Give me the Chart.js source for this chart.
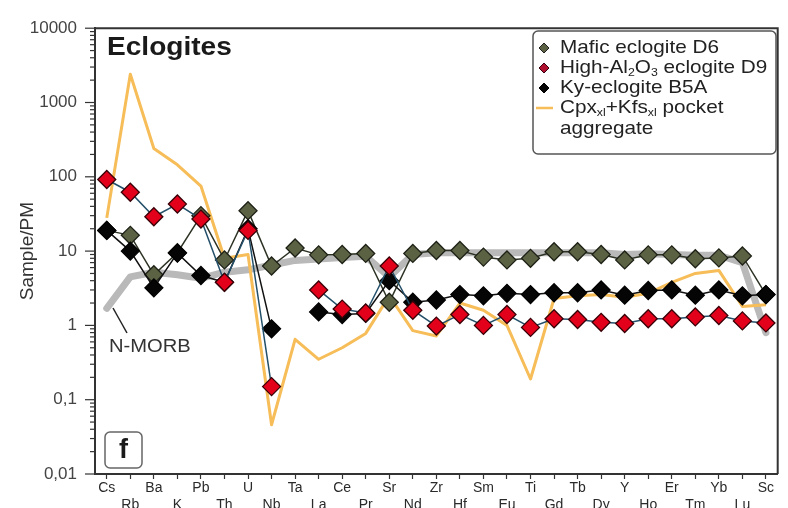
<!DOCTYPE html>
<html>
<head>
<meta charset="utf-8">
<script src="https://cdn.jsdelivr.net/npm/chart.js@4/dist/chart.umd.min.js"></script>
<style>
  html, body { margin: 0; padding: 0; background: #fff; overflow: hidden; }
  #wrap { width: 788px; height: 520px; }
</style>
</head>
<body>
<div id="wrap"><canvas id="c" width="788" height="520"></canvas></div>
<script>
// Trace elements, normalised to primitive mantle
const elements = ['Cs','Rb','Ba','K','Pb','Th','U','Nb','Ta','La','Ce','Pr','Sr','Nd','Zr','Hf','Sm','Eu','Ti','Gd','Tb','Dy','Y','Ho','Er','Tm','Yb','Lu','Sc'];

const maficD6 = [19, 16.3, 4.8, 9.5, 30, 7.6, 35, 6.3, 11, 8.9, 9.0, 9.3, 2.05, 9.3, 10.2, 10.2, 8.3, 7.6, 8.0, 9.8, 9.8, 9.0, 7.6, 8.9, 8.9, 7.9, 8.1, 8.6, 2.6];
const highAlD9 = [92, 62, 29, 43, 27, 3.8, 19, 0.15, null, 3.0, 1.66, 1.47, 6.3, 1.6, 0.98, 1.4, 1.0, 1.4, 0.94, 1.23, 1.2, 1.1, 1.06, 1.23, 1.23, 1.3, 1.36, 1.15, 1.08];
const kyB5A = [19, 10, 3.2, 9.4, 4.7, 3.8, 20, 0.9, null, 1.52, 1.4, 1.45, 4.0, 2.05, 2.2, 2.6, 2.5, 2.7, 2.6, 2.75, 2.75, 3.0, 2.55, 2.95, 3.0, 2.55, 3.0, 2.5, 2.6];
const pocketAggregate = [28, 2400, 240, 145, 75, 8, 9, 0.046, 0.65, 0.35, 0.5, 0.78, 2.5, 0.85, 0.72, 2.0, 1.6, 1.0, 0.19, 2.3, 2.5, 2.6, 2.4, 2.7, 3.8, 5.0, 5.5, 1.8, 1.9];
const nMorb = [1.7, 4.5, 5.2, 4.8, 4.3, 5.2, 5.6, 6.5, 7.5, 7.8, 8.2, 8.5, 4.5, 9.0, 9.5, 9.5, 9.5, 9.5, 9.5, 9.5, 9.5, 9.5, 9.0, 9.2, 9.0, 8.8, 8.8, 7.0, 0.8];

const yMajorTicks = [0.01, 0.1, 1, 10, 100, 1000, 10000];
const yTickText = ['0,01', '0,1', '1', '10', '100', '1000', '10000'];

const FONT = '"Liberation Sans", Arial, sans-serif';
const GREEN = '#5b6244';
const RED = '#e2001a';
const BLACK = '#050505';
const YELLOW = '#f6bd58';
const GREY = '#b9b9b9';

function markerSet(fill, border, line) {
  return {
    pointStyle: 'rectRot',
    pointRadius: 9,
    pointHoverRadius: 9,
    pointBackgroundColor: fill,
    pointBorderColor: border,
    pointBorderWidth: 1.3,
    borderColor: line,
    borderWidth: 1.5,
    tension: 0,
    spanGaps: false,
    fill: false
  };
}

// Rich text with subscripts, slightly widened: parts = [[text, isSub], ...]
function drawRich(ctx, parts, x, y, size, stretch) {
  ctx.save();
  ctx.translate(x, y);
  ctx.scale(stretch, 1);
  let cx = 0;
  for (const [t, sub] of parts) {
    ctx.font = (sub ? Math.round(size * 0.62) : size) + 'px ' + FONT;
    ctx.fillText(t, cx, sub ? size * 0.28 : 0);
    cx += ctx.measureText(t).width;
  }
  ctx.restore();
}

function wideText(ctx, text, x, y, font, stretch) {
  ctx.save();
  ctx.translate(x, y);
  ctx.scale(stretch, 1);
  ctx.font = font;
  ctx.fillText(text, 0, 0);
  ctx.restore();
}

function diamond(ctx, x, y, r, fill, stroke) {
  ctx.beginPath();
  ctx.moveTo(x - r, y); ctx.lineTo(x, y - r); ctx.lineTo(x + r, y); ctx.lineTo(x, y + r);
  ctx.closePath();
  ctx.fillStyle = fill; ctx.fill();
  ctx.strokeStyle = stroke; ctx.lineWidth = 1; ctx.stroke();
}

const decorations = {
  id: 'decorations',
  afterDraw(chart) {
    const ctx = chart.ctx;
    const a = chart.chartArea;
    const ys = chart.scales.y;
    ctx.save();

    // frame: top and right edges
    ctx.strokeStyle = '#333';
    ctx.lineWidth = 2;
    ctx.beginPath();
    ctx.moveTo(a.left, a.top); ctx.lineTo(a.right, a.top); ctx.lineTo(a.right, a.bottom);
    ctx.stroke();

    // log ticks on the y axis, long at decades, short between
    ctx.lineWidth = 1.2;
    for (const t of ys.ticks) {
      const py = ys.getPixelForValue(t.value);
      const len = yMajorTicks.includes(t.value) ? 10 : 5;
      ctx.beginPath();
      ctx.moveTo(a.left - len, py); ctx.lineTo(a.left, py);
      ctx.stroke();
    }

    // panel title
    ctx.fillStyle = '#1a1a1a';
    ctx.textBaseline = 'alphabetic';
    ctx.textAlign = 'left';
    wideText(ctx, 'Eclogites', 107, 55, 'bold 26px ' + FONT, 1.08);

    // panel letter
    ctx.strokeStyle = '#666';
    ctx.lineWidth = 1.5;
    ctx.beginPath();
    ctx.roundRect(105, 432, 37, 36, 5);
    ctx.stroke();
    ctx.font = 'bold 27px ' + FONT;
    ctx.textAlign = 'center';
    ctx.textBaseline = 'middle';
    ctx.fillText('f', 123.5, 451);

    // N-MORB label and leader
    ctx.strokeStyle = '#222';
    ctx.lineWidth = 1.5;
    ctx.beginPath();
    ctx.moveTo(113, 308); ctx.lineTo(127, 333);
    ctx.stroke();
    ctx.textAlign = 'left';
    ctx.fillStyle = '#333';
    wideText(ctx, 'N-MORB', 109, 347, '18px ' + FONT, 1.12);

    // legend
    ctx.fillStyle = '#fff';
    ctx.strokeStyle = '#555';
    ctx.lineWidth = 1.5;
    ctx.beginPath();
    ctx.roundRect(533, 31, 243, 123, 5);
    ctx.fill();
    ctx.stroke();

    diamond(ctx, 544, 48, 5, GREEN, '#222');
    diamond(ctx, 544, 68, 5, '#b01030', '#3a0010');
    diamond(ctx, 544, 88, 5, BLACK, '#000');
    ctx.strokeStyle = YELLOW;
    ctx.lineWidth = 2.5;
    ctx.beginPath();
    ctx.moveTo(536, 108); ctx.lineTo(553, 108);
    ctx.stroke();

    ctx.fillStyle = '#222';
    ctx.textBaseline = 'middle';
    const fs = 18.5, sx = 1.12;
    drawRich(ctx, [['Mafic eclogite D6', false]], 560, 48, fs, sx);
    drawRich(ctx, [['High-Al', false], ['2', true], ['O', false], ['3', true], [' eclogite D9', false]], 560, 68, fs, sx);
    drawRich(ctx, [['Ky-eclogite B5A', false]], 560, 88, fs, sx);
    drawRich(ctx, [['Cpx', false], ['xl', true], ['+Kfs', false], ['xl', true], [' pocket', false]], 560, 108, fs, sx);
    drawRich(ctx, [['aggregate', false]], 560, 129, fs, sx);

    ctx.restore();
  }
};

const ctx = document.getElementById('c').getContext('2d');
new Chart(ctx, {
  type: 'line',
  data: {
    labels: elements,
    datasets: [
      { label: 'N-MORB', data: nMorb, order: 5,
        borderColor: GREY, borderWidth: 7, pointRadius: 0, pointHoverRadius: 0,
        borderCapStyle: 'round', borderJoinStyle: 'round', tension: 0, fill: false },
      { label: 'Cpx+Kfs pocket aggregate', data: pocketAggregate, order: 4,
        borderColor: YELLOW, borderWidth: 3, pointRadius: 0, pointHoverRadius: 0,
        borderJoinStyle: 'round', tension: 0, fill: false },
      Object.assign({ label: 'Mafic eclogite D6', data: maficD6, order: 3 }, markerSet(GREEN, '#1e2216', '#2c3324')),
      Object.assign({ label: 'Ky-eclogite B5A', data: kyB5A, order: 2 }, markerSet(BLACK, '#000', '#111')),
      Object.assign({ label: 'High-Al2O3 eclogite D9', data: highAlD9, order: 1 }, markerSet(RED, '#3a0008', '#24506a'))
    ]
  },
  options: {
    responsive: false,
    animation: false,
    devicePixelRatio: 1,
    layout: { padding: { top: 21, right: 6, left: 0, bottom: 0 } },
    plugins: { legend: { display: false }, tooltip: { enabled: false } },
    scales: {
      x: {
        type: 'category',
        offset: true,
        afterFit(scale) { scale.height = 46; },
        grid: { drawOnChartArea: false, drawTicks: true, tickLength: 5, tickColor: '#333', tickWidth: 1.2 },
        border: { display: true, color: '#333', width: 2 },
        ticks: {
          autoSkip: false,
          maxRotation: 0,
          minRotation: 0,
          padding: 1,
          color: '#2a2a2a',
          font: { family: FONT, size: 14, lineHeight: '17px' },
          callback(value, index) {
            const name = elements[index];
            return index % 2 === 0 ? [name, ''] : ['', name];
          }
        }
      },
      y: {
        type: 'logarithmic',
        min: 0.01,
        max: 10000,
        afterFit(scale) { scale.width = 95; },
        afterBuildTicks(scale) {
          const ticks = [];
          for (let e = -2; e <= 4; e++) {
            for (let m = 1; m <= 9; m++) {
              const v = Number((m * Math.pow(10, e)).toPrecision(3));
              if (v > 10000) break;
              ticks.push({ value: v });
            }
          }
          scale.ticks = ticks;
        },
        grid: { drawOnChartArea: false, drawTicks: false },
        border: { display: true, color: '#333', width: 2 },
        ticks: {
          autoSkip: false,
          padding: 18,
          color: '#444',
          font: { family: FONT, size: 17 },
          callback(value) {
            const i = yMajorTicks.indexOf(value);
            return i >= 0 ? yTickText[i] : '';
          }
        },
        title: {
          display: true,
          text: 'Sample/PM',
          color: '#333',
          font: { family: FONT, size: 19 },
          padding: { top: 16, bottom: 0 }
        }
      }
    }
  },
  plugins: [decorations]
});
</script>
</body>
</html>
